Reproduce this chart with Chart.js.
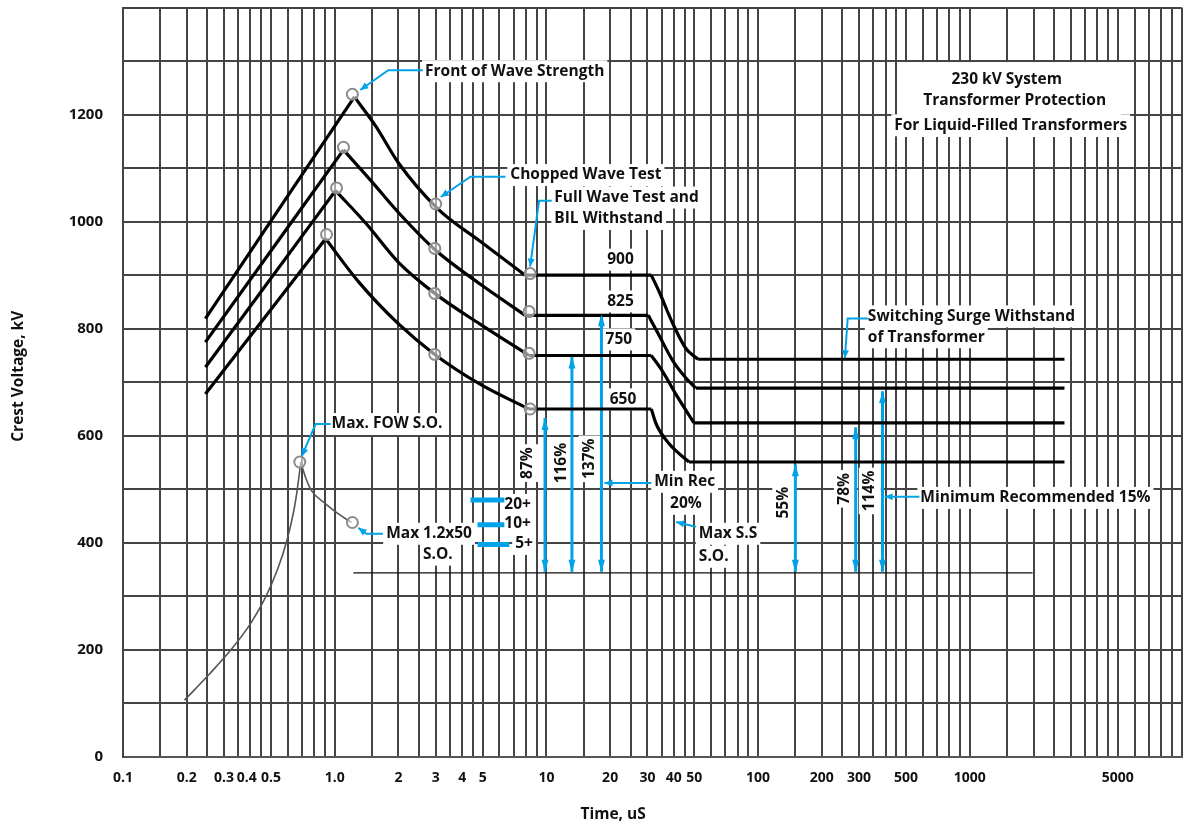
<!DOCTYPE html>
<html>
<head>
<meta charset="utf-8">
<script src="https://cdn.jsdelivr.net/npm/chart.js@4/dist/chart.umd.min.js"></script>
<style>
  html, body { margin: 0; background: #fff; }
  #chart { display: block; }
</style>
</head>
<body>
<canvas id="chart" width="1189" height="825"></canvas>
<script>
// Axis ticks
const xGridSteps = [1, 1.5, 2, 2.5, 3, 3.5, 4, 4.5, 5, 6, 7, 8, 9];
const xTickValues = [0.1, 0.2, 0.3, 0.4, 0.5, 1, 2, 3, 4, 5, 10, 20, 30, 40, 50, 100, 200, 300, 500, 1000, 5000];
const xTickLabels = ['0.1', '0.2', '0.3', '0.4  ', '0.5', '1.0', '2', '3', '4', '5', '10', '20', '30', '40', '50', '100', '200', '300', '500', '1000', '5000'];
const yTickValues = [0, 200, 400, 600, 800, 1000, 1200];

// Insulation curves [time uS, kV] for BIL 900 / 825 / 750 / 650
const curve900 = [[0.245, 819], [1.239, 1233], [1.571, 1177], [1.99, 1111], [3.07, 1024], [4.88, 963], [7.94, 900], [31.3, 900], [34.1, 869], [39.7, 808], [45.6, 763], [52.0, 743], [2800, 743]];
const curve825 = [[0.245, 775], [1.10, 1134], [1.472, 1078], [1.99, 1018], [2.97, 948], [4.88, 883], [7.94, 825], [30.3, 825], [33.7, 791], [39.7, 739], [45.6, 708], [50.8, 689], [2800, 689]];
const curve750 = [[0.245, 728], [1.009, 1058], [1.41, 996], [1.99, 925], [2.97, 866], [4.88, 808], [8.28, 750], [31.3, 750], [34.9, 724], [41.4, 674], [49.8, 624], [2800, 624]];
const curve650 = [[0.245, 678], [0.906, 968], [1.294, 888], [1.99, 810], [2.97, 752], [4.88, 696], [8.28, 650], [31.3, 650], [33.0, 622], [38.0, 585], [47.2, 551], [2800, 551]];

// Arrester sparkover curve
const sparkover = [[0.195, 106], [0.256, 155], [0.328, 203], [0.403, 251], [0.4735, 300], [0.539, 352], [0.594, 404], [0.641, 460], [0.669, 506], [0.691, 551], [0.73, 521], [0.778, 497], [0.906, 473], [1.042, 454], [1.199, 438]];

// Marked points
const fowPoints = [[1.212, 1238], [1.10, 1139], [1.02, 1063], [0.915, 976]];
const chopPoints = [[3.0, 1033], [2.97, 950], [2.97, 866], [2.97, 752]];
const fullPoints = [[8.38, 903], [8.28, 832], [8.28, 754], [8.38, 650]];
const sparkPoints = [[0.684, 551], [1.212, 438]];

// Protective margin arrows
const marginX = [9.85, 13.2, 18.2, 150, 289, 387];
const marginTop = [633, 748, 827, 547, 616, 683];
const marginBase = 346;
const marginText = ['87%', '116%', '137%', '55%', '78%', '114%'];
const marginTextX = [8.11, 11.8, 16.0, 131.5, 257, 337];
const marginTextY = [549, 549, 557, 475, 501, 497];
const baseLine = [[1.225, 344], [1980, 344]];

// 20+ / 10+ / 5+ bars
const barText = ['20+', '10+', '5+'];
const barFrom = [4.38, 4.73, 4.73];
const barTo = [6.33, 6.33, 6.68];
const barY = [480, 434, 397];
const barTextX = [6.33, 6.33, 7.12];
const barTextY = [471, 436, 398];

// Callout leader lines (first point gets the arrow head)
const leaders = [
  [[1.32, 1246], [1.79, 1283], [2.61, 1283]],
  [[3.17, 1046], [4.38, 1084], [6.4, 1084]],
  [[8.38, 916], [9.23, 1039], [10.6, 1039]],
  [[257, 745], [265, 819], [330, 819]],
  [[0.699, 562], [0.813, 622], [0.956, 622]],
  [[1.294, 428], [1.41, 417], [1.69, 417]],
  [[18.8, 512], [31.3, 512]],
  [[41.0, 439], [50.8, 430]],
  [[396, 486], [578, 486]]
];

const notes = [
  { t: 'Front of Wave Strength', x: 2.67, y: 1281 },
  { t: 'Chopped Wave Test', x: 6.75, y: 1087 },
  { t: 'Full Wave Test and', x: 10.9, y: 1045 },
  { t: 'BIL Withstand', x: 10.9, y: 1005 },
  { t: '900', x: 22.4, y: 929, c: true },
  { t: '825', x: 22.4, y: 851, c: true },
  { t: '750', x: 22.0, y: 780, c: true },
  { t: '650', x: 23.0, y: 668, c: true },
  { t: 'Switching Surge Withstand', x: 330, y: 823 },
  { t: 'of Transformer', x: 330, y: 784 },
  { t: '230 kV System', x: 1494, y: 1266, c: true },
  { t: 'Transformer Protection', x: 1629, y: 1227, c: true },
  { t: 'For Liquid-Filled Transformers', x: 1560, y: 1180, c: true },
  { t: 'Max. FOW S.O.', x: 0.966, y: 622 },
  { t: 'Max 1.2x50', x: 1.75, y: 417 },
  { t: 'S.O.', x: 3.07, y: 378, c: true },
  { t: 'Min Rec', x: 32.3, y: 514 },
  { t: '20%', x: 45.6, y: 473, c: true },
  { t: 'Max S.S', x: 52.5, y: 417 },
  { t: 'S.O.', x: 52.5, y: 374 },
  { t: 'Minimum Recommended 15%', x: 584, y: 484 }
];
const titleBox = [456, 5176, 1158, 1298];

const BLUE = '#00a2e8';
const FONT = 'bold 15.5px "Open Sans"';
const toXY = arr => arr.map(p => ({ x: p[0], y: p[1] }));

// break a curve at its peak and at the ends of flat runs, so corners stay sharp
function splitCurve(pts) {
  let peak = 0;
  pts.forEach((p, i) => { if (p[1] > pts[peak][1]) peak = i; });
  const cuts = new Set([0, peak, pts.length - 1]);
  for (let i = 1; i < pts.length; i++) {
    if (pts[i][1] === pts[i - 1][1]) { cuts.add(i - 1); cuts.add(i); }
  }
  const idx = [...cuts].sort((a, b) => a - b);
  const parts = [];
  for (let k = 1; k < idx.length; k++) parts.push(pts.slice(idx[k - 1], idx[k] + 1));
  return parts;
}

const datasets = [];
datasets.push({
  data: toXY([...fowPoints, ...chopPoints, ...fullPoints, ...sparkPoints]),
  showLine: false, pointRadius: 5.5, pointBorderWidth: 2,
  pointBorderColor: '#8c8c8c', pointBackgroundColor: 'rgba(255,255,255,0.55)'
});
[curve900, curve825, curve750, curve650].forEach(c => {
  splitCurve(c).forEach(part => {
    datasets.push({ data: toXY(part), borderColor: '#000', borderWidth: 3.2, pointRadius: 0, cubicInterpolationMode: 'monotone', borderJoinStyle: 'round' });
  });
});
splitCurve(sparkover).forEach(part => {
  datasets.push({ data: toXY(part), borderColor: '#555', borderWidth: 1.6, pointRadius: 0, cubicInterpolationMode: 'monotone' });
});
datasets.push({ data: toXY(baseLine), borderColor: '#111', borderWidth: 1.2, pointRadius: 0 });
marginX.forEach((mx, i) => {
  datasets.push({ data: [{ x: mx, y: marginBase }, { x: mx, y: marginTop[i] }], borderColor: BLUE, borderWidth: 3, pointRadius: 0, heads: 'both' });
});
barY.forEach((by, i) => {
  datasets.push({ data: [{ x: barFrom[i], y: by }, { x: barTo[i], y: by }], borderColor: BLUE, borderWidth: 5, pointRadius: 0, borderCapStyle: 'butt' });
});
leaders.forEach(l => {
  datasets.push({ data: toXY(l), borderColor: BLUE, borderWidth: 2, pointRadius: 0, heads: 'start' });
});

function arrowHead(ctx, tipX, tipY, fromX, fromY, len, half) {
  const a = Math.atan2(tipY - fromY, tipX - fromX);
  ctx.beginPath();
  ctx.moveTo(tipX, tipY);
  ctx.lineTo(tipX - len * Math.cos(a) + half * Math.sin(a), tipY - len * Math.sin(a) - half * Math.cos(a));
  ctx.lineTo(tipX - len * Math.cos(a) - half * Math.sin(a), tipY - len * Math.sin(a) + half * Math.cos(a));
  ctx.closePath();
  ctx.fill();
}

function boxedText(ctx, text, x, y, center) {
  const w = ctx.measureText(text).width;
  const left = center ? x - w / 2 : x;
  ctx.fillStyle = '#fff';
  ctx.fillRect(left - 3, y - 11, w + 6, 22);
  ctx.fillStyle = '#111';
  ctx.fillText(text, left, y);
}

const annotate = {
  id: 'annotate',
  beforeDatasetsDraw(chart) {
    const { ctx, scales: { x, y } } = chart;
    ctx.save();
    ctx.fillStyle = '#fff';
    const bx0 = x.getPixelForValue(titleBox[0]), bx1 = x.getPixelForValue(titleBox[1]);
    const by0 = y.getPixelForValue(titleBox[3]), by1 = y.getPixelForValue(titleBox[2]);
    ctx.fillRect(bx0, by0, bx1 - bx0, by1 - by0);
    ctx.font = FONT;
    ctx.textBaseline = 'middle';
    ctx.textAlign = 'left';
    notes.forEach(n => boxedText(ctx, n.t, x.getPixelForValue(n.x), y.getPixelForValue(n.y), n.c));
    barText.forEach((t, i) => boxedText(ctx, t, x.getPixelForValue(barTextX[i]), y.getPixelForValue(barTextY[i]), false));
    marginText.forEach((t, i) => {
      ctx.save();
      ctx.translate(x.getPixelForValue(marginTextX[i]), y.getPixelForValue(marginTextY[i]));
      ctx.rotate(-Math.PI / 2);
      boxedText(ctx, t, 0, 0, true);
      ctx.restore();
    });
    ctx.restore();
  },
  afterDatasetsDraw(chart) {
    const { ctx } = chart;
    ctx.save();
    ctx.fillStyle = BLUE;
    chart.data.datasets.forEach((ds, i) => {
      if (!ds.heads) return;
      const pts = chart.getDatasetMeta(i).data;
      const n = pts.length;
      if (ds.heads === 'both') {
        arrowHead(ctx, pts[0].x, pts[0].y, pts[1].x, pts[1].y, 12, 3.5);
        arrowHead(ctx, pts[n - 1].x, pts[n - 1].y, pts[n - 2].x, pts[n - 2].y, 12, 3.5);
      } else {
        arrowHead(ctx, pts[0].x, pts[0].y, pts[1].x, pts[1].y, 8, 3.5);
      }
    });
    ctx.restore();
  },
  afterDraw(chart) {
    const { ctx, chartArea: a } = chart;
    ctx.save();
    ctx.font = 'bold 15.5px "Open Sans"';
    ctx.fillStyle = '#111';
    ctx.textAlign = 'center';
    ctx.textBaseline = 'middle';
    ctx.fillText('Time, uS', a.left + (a.right - a.left) * 0.463, 815);
    ctx.translate(19, (a.top + a.bottom) / 2 - 6);
    ctx.rotate(-Math.PI / 2);
    ctx.fillText('Crest Voltage, kV', 0, 0);
    ctx.restore();
  }
};

new Chart(document.getElementById('chart'), {
  type: 'line',
  data: { datasets },
  plugins: [annotate],
  options: {
    responsive: false,
    animation: false,
    devicePixelRatio: 1,
    layout: { padding: { top: 4, right: 0, left: 0, bottom: 0 } },
    plugins: { legend: { display: false }, tooltip: { enabled: false } },
    scales: {
      x: {
        type: 'logarithmic',
        min: 0.1,
        max: 10000,
        afterFit: s => { s.height = 68; },
        afterBuildTicks: s => {
          const t = [];
          for (let d = 0.1; d < 5000; d *= 10) {
            xGridSteps.forEach(m => t.push({ value: +(m * d).toPrecision(6) }));
          }
          t.push({ value: 10000 });
          s.ticks = t;
        },
        grid: { color: '#444', lineWidth: 2, drawTicks: true, tickLength: 13, tickColor: 'rgba(0,0,0,0)' },
        border: { display: true, color: '#555', width: 2 },
        ticks: {
          autoSkip: false,
          maxRotation: 0,
          padding: 0,
          color: '#111',
          font: { family: 'Open Sans', size: 14, weight: 'bold' },
          callback: v => {
            const i = xTickValues.findIndex(t => Math.abs(t - v) < t * 1e-6);
            return i >= 0 ? xTickLabels[i] : '';
          }
        }
      },
      y: {
        min: 0,
        max: 1400,
        afterFit: s => { s.width = 123; },
        grid: { color: '#444', lineWidth: 2, drawTicks: true, tickLength: 20, tickColor: 'rgba(0,0,0,0)' },
        border: { display: true, color: '#444', width: 2 },
        ticks: {
          stepSize: 100,
          autoSkip: false,
          padding: 0,
          color: '#111',
          font: c => ({ family: 'Open Sans', size: c.tick && c.tick.value === 1400 ? 1 : 15, weight: 'bold' }),
          callback: v => yTickValues.includes(v) ? String(v) : ''
        }
      }
    }
  }
});
</script>
</body>
</html>
